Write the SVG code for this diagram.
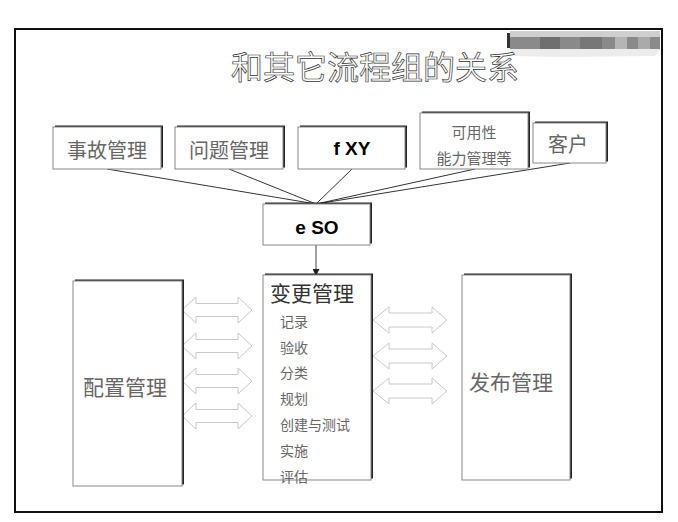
<svg xmlns="http://www.w3.org/2000/svg" width="678" height="522" viewBox="0 0 678 522">
<style>
.sh{fill:#222}
.bx{fill:#fff;stroke:#888;stroke-width:1}
.cn{font-family:"Noto Sans CJK SC","Noto Sans",sans-serif;text-anchor:middle;dominant-baseline:central}
.lt{font-family:"Liberation Sans",Arial,sans-serif;font-weight:bold;text-anchor:middle;dominant-baseline:central;fill:#000;font-size:19px}
.g{fill:#666}
.ln{stroke:#000;stroke-width:0.8;fill:none}
.da{fill:#fff;stroke:#c8c8c8;stroke-width:1}
</style>
<defs>
<marker id="ah" viewBox="0 0 10 10" refX="10" refY="5" markerWidth="7" markerHeight="7" orient="auto" markerUnits="userSpaceOnUse">
<path d="M0,0 L10,5 L0,10 z" fill="#222"/>
</marker>
</defs>
<rect width="678" height="522" fill="#fff"/>
<rect x="15" y="29" width="647" height="483" fill="none" stroke="#111" stroke-width="2"/>
<g id="logo">
<rect x="510" y="31" width="150" height="6" fill="#cfcfcf"/>
<rect x="510" y="37" width="150" height="12" fill="#8a8a8a"/>
<rect x="540" y="37" width="20" height="12" fill="#6f6f6f"/>
<rect x="580" y="37" width="22" height="12" fill="#777"/>
<rect x="615" y="37" width="12" height="12" fill="#b5b5b5"/>
<rect x="638" y="37" width="12" height="12" fill="#aaa"/>
<polygon points="510,49 660,49 655,56 560,57 512,56" fill="#ececec"/>
<rect x="507" y="33" width="3" height="15" fill="#333"/>
</g>
<text x="375" y="65" class="cn" style="font-size:32px;fill:#fff;stroke:#333;stroke-width:0.7">和其它流程组的关系</text>
<g id="connectors">
<line class="ln" x1="107" y1="169" x2="316" y2="204"/>
<line class="ln" x1="229" y1="169" x2="316" y2="204"/>
<line class="ln" x1="352" y1="169" x2="316" y2="204"/>
<line class="ln" x1="475" y1="169" x2="316" y2="204"/>
<line class="ln" x1="570" y1="163" x2="316" y2="204"/>
<line stroke="#444" stroke-width="1" x1="316" y1="245" x2="316" y2="276" marker-end="url(#ah)"/>
<path class="da" d="M182,310 L196,297 L196,303.5 L238,303.5 L238,297 L252,310 L238,323 L238,316.5 L196,316.5 L196,323 Z"/>
<path class="da" d="M182,346 L196,333 L196,339.5 L238,339.5 L238,333 L252,346 L238,359 L238,352.5 L196,352.5 L196,359 Z"/>
<path class="da" d="M182,381 L196,368 L196,374.5 L238,374.5 L238,368 L252,381 L238,394 L238,387.5 L196,387.5 L196,394 Z"/>
<path class="da" d="M182,416 L196,403 L196,409.5 L238,409.5 L238,403 L252,416 L238,429 L238,422.5 L196,422.5 L196,429 Z"/>
<path class="da" d="M373,320 L389,307 L389,313 L432,313 L432,307 L447,320 L432,333 L432,327 L389,327 L389,333 Z"/>
<path class="da" d="M373,356 L389,343 L389,349 L432,349 L432,343 L447,356 L432,369 L432,363 L389,363 L389,369 Z"/>
<path class="da" d="M373,391 L389,378 L389,384 L432,384 L432,378 L447,391 L432,404 L432,398 L389,398 L389,404 Z"/>
</g>
<g id="n-shiguguanli">
<rect class="sh" x="55" y="125.5" width="108" height="42"/>
<rect class="bx" x="53" y="127" width="108" height="42"/>
<text class="cn g" x="107" y="149" style="font-size:20px">事故管理</text>
</g>
<g id="n-wentiguanli">
<rect class="sh" x="177" y="125.5" width="108" height="42"/>
<rect class="bx" x="175" y="127" width="108" height="42"/>
<text class="cn g" x="229" y="149" style="font-size:20px">问题管理</text>
</g>
<g id="n-fxy">
<rect class="sh" x="300" y="125.5" width="107" height="42"/>
<rect class="bx" x="298" y="127" width="107" height="42"/>
<text class="lt" x="352" y="148">f XY</text>
</g>
<g id="n-keyongxing">
<rect class="sh" x="422" y="111.5" width="108" height="56"/>
<rect class="bx" x="420" y="113" width="108" height="56"/>
<text class="cn g" x="474" y="131" style="font-size:15px">可用性</text>
<text class="cn g" x="474" y="157" style="font-size:15px">能力管理等</text>
</g>
<g id="n-kehu">
<rect class="sh" x="535" y="121.5" width="73" height="40"/>
<rect class="bx" x="533" y="123" width="73" height="40"/>
<text class="cn g" x="568" y="143" style="font-size:20px">客户</text>
</g>
<g id="n-eso">
<rect class="sh" x="265" y="202.5" width="107" height="41"/>
<rect class="bx" x="263" y="204" width="107" height="41"/>
<text class="lt" x="317" y="227">e SO</text>
</g>
<g id="n-peizhi">
<rect class="sh" x="75" y="279.5" width="109" height="205"/>
<rect class="bx" x="73" y="281" width="109" height="205"/>
<text class="cn g" x="125" y="386" style="font-size:21px">配置管理</text>
</g>
<g id="n-biangeng">
<rect class="sh" x="265" y="273.5" width="108" height="205"/>
<rect class="bx" x="263" y="275" width="108" height="205"/>
<text class="cn" x="312" y="292" style="font-size:21px;fill:#333">变更管理</text>
<g class="cn g" style="font-size:14px;text-anchor:start">
<text x="280" y="321">记录</text>
<text x="280" y="347">验收</text>
<text x="280" y="372">分类</text>
<text x="280" y="398">规划</text>
<text x="280" y="424">创建与测试</text>
<text x="280" y="450">实施</text>
<text x="280" y="476">评估</text>
</g>
</g>
<g id="n-fabu">
<rect class="sh" x="464" y="273.5" width="108" height="205"/>
<rect class="bx" x="462" y="275" width="108" height="205"/>
<text class="cn g" x="511" y="381" style="font-size:21px">发布管理</text>
</g>
</svg>
